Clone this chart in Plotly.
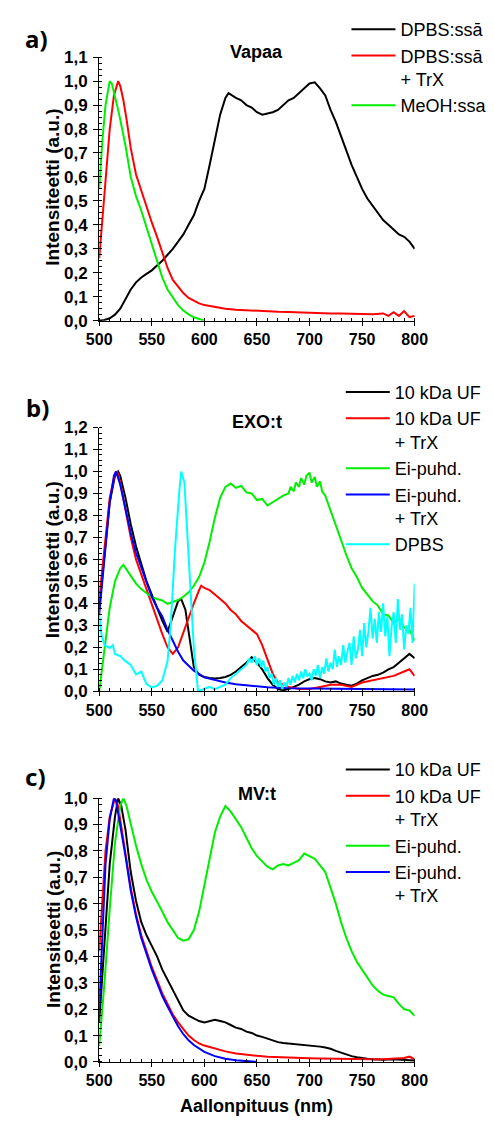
import plotly.graph_objects as go

# ---------------- Panel a) Vapaa ----------------
a_black_wl = [500,505,510,515,520,525,530,535,540,545,550,555,560,565,570,575,580,585,590,595,600,605,610,615,620,623,630,635,640,645,650,655,660,665,670,675,680,685,690,695,700,705,710,715,720,725,730,735,740,745,750,755,760,765,770,775,780,785,790,795,800]
a_black = [0.0,0.003,0.01,0.025,0.05,0.09,0.13,0.16,0.18,0.195,0.21,0.23,0.25,0.275,0.30,0.33,0.36,0.40,0.44,0.50,0.55,0.65,0.76,0.86,0.93,0.95,0.93,0.92,0.90,0.89,0.87,0.86,0.865,0.87,0.88,0.90,0.92,0.93,0.95,0.97,0.99,0.995,0.97,0.94,0.88,0.83,0.77,0.71,0.65,0.60,0.55,0.51,0.48,0.45,0.42,0.40,0.38,0.36,0.35,0.33,0.30]

a_red_wl = [500,503,506,510,514,518,520,523,526,530,535,540,545,550,555,560,565,570,575,580,585,590,595,600,610,620,630,640,650,660,670,680,690,700,710,720,730,740,750,760,770,775,780,785,790,795,800]
a_red = [0.26,0.42,0.60,0.80,0.94,1.0,0.98,0.92,0.84,0.72,0.61,0.54,0.47,0.41,0.35,0.28,0.22,0.17,0.14,0.115,0.095,0.082,0.072,0.065,0.057,0.05,0.046,0.043,0.041,0.039,0.037,0.036,0.034,0.033,0.032,0.030,0.030,0.028,0.027,0.027,0.030,0.020,0.035,0.020,0.040,0.015,0.020]

a_green_wl = [500,503,506,510,512,515,518,520,525,530,535,540,545,550,555,560,565,570,575,580,585,590,595,600]
a_green = [0.55,0.75,0.90,1.0,0.99,0.94,0.88,0.84,0.73,0.60,0.52,0.46,0.39,0.31,0.24,0.18,0.13,0.095,0.065,0.042,0.026,0.014,0.006,0.0]

# ---------------- Panel b) EXO:t ----------------
b_black_wl = [500,505,510,515,518,520,525,530,535,540,545,550,555,560,565,570,575,578,582,586,590,595,600,605,610,615,620,625,630,635,640,645,650,655,660,665,670,675,680,685,690,695,700,705,710,715,720,725,730,735,740,745,750,755,760,765,770,775,780,785,790,795,800]
b_black = [0.38,0.62,0.86,0.98,1.0,0.98,0.88,0.76,0.66,0.58,0.50,0.44,0.38,0.32,0.27,0.34,0.41,0.42,0.37,0.24,0.11,0.075,0.065,0.06,0.058,0.06,0.065,0.075,0.09,0.11,0.13,0.155,0.13,0.10,0.06,0.03,0.01,0.005,0.01,0.02,0.03,0.045,0.055,0.06,0.055,0.045,0.04,0.045,0.035,0.03,0.025,0.035,0.05,0.06,0.07,0.075,0.085,0.10,0.11,0.13,0.15,0.17,0.15]

b_red_wl = [500,505,510,515,517,520,525,530,535,540,545,550,555,560,565,570,575,580,585,590,595,597,600,605,610,615,620,625,630,635,640,645,650,655,660,665,670,680,690,700,710,720,730,740,750,760,770,780,790,795,800]
b_red = [0.42,0.65,0.88,0.99,1.0,0.95,0.83,0.70,0.60,0.53,0.46,0.39,0.32,0.26,0.20,0.17,0.20,0.27,0.34,0.40,0.46,0.48,0.47,0.46,0.44,0.42,0.40,0.37,0.35,0.32,0.30,0.28,0.26,0.21,0.14,0.08,0.04,0.02,0.01,0.01,0.02,0.03,0.03,0.02,0.04,0.05,0.06,0.07,0.09,0.10,0.07]

b_green_wl = [500,505,510,515,520,523,530,535,540,545,550,555,560,565,570,575,580,585,590,595,600,605,610,615,620,625,630,635,640,645,650,655,660,665,670,675,680,682,685,687,690,692,695,697,700,702,705,707,710,712,715,720,725,730,735,740,745,750,755,760,765,770,775,780,785,790,795,800]
b_green = [0.0,0.20,0.38,0.50,0.56,0.575,0.525,0.49,0.465,0.445,0.428,0.42,0.413,0.398,0.406,0.415,0.43,0.45,0.48,0.52,0.585,0.68,0.79,0.88,0.93,0.945,0.925,0.935,0.905,0.90,0.87,0.875,0.845,0.86,0.875,0.89,0.90,0.93,0.91,0.95,0.93,0.97,0.94,0.98,0.995,0.95,0.975,0.93,0.955,0.91,0.89,0.82,0.76,0.68,0.62,0.56,0.52,0.47,0.44,0.41,0.39,0.35,0.345,0.31,0.33,0.29,0.28,0.23]

b_blue_wl = [500,505,510,514,516,520,525,530,535,540,545,550,555,560,565,570,575,580,585,590,600,610,620,630,640,650,660,680,700,750,800]
b_blue = [0.35,0.62,0.86,0.98,1.0,0.94,0.83,0.72,0.63,0.56,0.49,0.43,0.38,0.34,0.28,0.23,0.18,0.14,0.115,0.094,0.063,0.05,0.04,0.032,0.027,0.022,0.018,0.014,0.012,0.01,0.008]

b_cyan_wl = [500,502,505,510,513,515,520,525,530,533,535,540,545,550,555,560,565,568,572,576,578,581,585,590,594,600,605,610,615,620,625,630,635,640,643,645,648,650,652,654,656,658,660,662,664,666,668,670,672,674,676,678,680,682,684,686,688,690,692,694,696,698,700,702,704,706,708,710,712,714,716,718,720,722,724,726,728,730,732,734,736,738,740,742,744,746,748,750,752,754,756,758,760,762,764,766,768,770,772,774,776,778,780,782,784,786,788,790,792,794,796,798,800]
b_cyan = [0.35,0.26,0.21,0.197,0.21,0.17,0.16,0.137,0.12,0.09,0.077,0.09,0.033,0.018,0.025,0.049,0.137,0.30,0.64,0.90,1.0,0.95,0.60,0.197,0.0,0.01,0.02,0.01,0.02,0.03,0.06,0.08,0.10,0.12,0.15,0.13,0.16,0.12,0.15,0.11,0.14,0.09,0.11,0.06,0.08,0.03,0.06,0.02,0.05,0.01,0.04,0.02,0.06,0.03,0.07,0.04,0.08,0.05,0.09,0.06,0.10,0.07,0.08,0.05,0.10,0.07,0.12,0.06,0.11,0.08,0.15,0.09,0.13,0.10,0.19,0.11,0.16,0.12,0.21,0.13,0.18,0.22,0.12,0.25,0.15,0.19,0.28,0.16,0.31,0.20,0.27,0.38,0.24,0.33,0.22,0.36,0.27,0.40,0.25,0.34,0.16,0.29,0.36,0.22,0.42,0.28,0.35,0.19,0.30,0.26,0.38,0.22,0.49]

# ---------------- Panel c) MV:t ----------------
c_black_wl = [500,505,510,515,518,521,525,530,535,540,545,550,555,560,565,570,575,580,585,590,595,600,605,610,615,620,625,630,635,640,645,650,655,660,665,670,675,680,685,690,695,700,705,710,715,720,725,730,735,740,745,750,755,760,770,780,790,800]
c_black = [0.15,0.45,0.75,0.93,1.0,0.97,0.88,0.72,0.61,0.53,0.48,0.44,0.40,0.35,0.31,0.27,0.23,0.195,0.175,0.165,0.155,0.15,0.155,0.16,0.155,0.15,0.14,0.13,0.125,0.115,0.11,0.10,0.095,0.088,0.08,0.075,0.072,0.07,0.07,0.068,0.065,0.062,0.06,0.058,0.055,0.05,0.042,0.035,0.028,0.022,0.018,0.014,0.012,0.01,0.008,0.01,0.008,0.005]

c_red_wl = [500,503,506,510,515,518,520,525,530,535,540,545,550,555,560,565,570,575,580,585,590,595,600,610,620,630,640,650,660,670,680,690,700,710,720,730,740,750,760,770,780,790,795,800]
c_red = [0.42,0.60,0.80,0.93,1.0,0.97,0.92,0.79,0.66,0.56,0.48,0.42,0.36,0.31,0.26,0.22,0.18,0.15,0.125,0.10,0.083,0.07,0.062,0.05,0.04,0.032,0.027,0.023,0.02,0.018,0.016,0.015,0.014,0.013,0.012,0.012,0.011,0.01,0.01,0.01,0.012,0.015,0.02,0.01]

c_green_wl = [500,505,510,515,520,523,526,530,535,540,545,550,555,560,565,570,575,580,585,590,595,600,605,610,615,620,625,630,635,640,645,650,655,660,665,670,675,680,685,690,695,700,705,710,715,720,725,730,735,740,745,750,755,760,765,770,775,780,785,790,795,800]
c_green = [0.06,0.30,0.58,0.83,0.97,1.0,0.97,0.90,0.82,0.75,0.69,0.645,0.61,0.57,0.53,0.50,0.47,0.46,0.465,0.50,0.57,0.67,0.77,0.87,0.93,0.97,0.95,0.92,0.89,0.85,0.81,0.78,0.76,0.74,0.73,0.745,0.75,0.745,0.755,0.765,0.79,0.78,0.77,0.745,0.72,0.66,0.60,0.53,0.47,0.42,0.38,0.35,0.32,0.29,0.27,0.255,0.25,0.245,0.22,0.20,0.195,0.175]

c_blue_wl = [500,503,506,510,514,516,520,525,530,535,540,545,550,555,560,565,570,575,580,585,590,595,600,610,620,630,640,650]
c_blue = [0.20,0.50,0.75,0.92,1.0,0.99,0.90,0.78,0.65,0.55,0.47,0.41,0.35,0.30,0.25,0.21,0.17,0.135,0.105,0.082,0.064,0.05,0.038,0.022,0.012,0.006,0.003,0.0]

# ---------------- text ----------------
legend_a = ["DPBS:ssā", "DPBS:ssā<br>+ TrX", "MeOH:ssa"]
legend_bc = ["10 kDa UF", "10 kDa UF<br>+ TrX", "Ei-puhd.", "Ei-puhd.<br>+ TrX", "DPBS"]
panel_titles = ["Vapaa", "EXO:t", "MV:t"]
panel_labels = ["a)", "b)", "c)"]
y_title = "Intensiteetti (a.u.)"
x_title = "Aallonpituus (nm)"
x_ticks = [500, 550, 600, 650, 700, 750, 800]

BLACK, RED, GREEN, BLUE, CYAN = "#000000", "#FF0000", "#00EE00", "#0000FF", "#00FFFF"
W, H = 494, 1126
FONT = "Arial, Liberation Sans, sans-serif"

fig = go.Figure()

def add(x, y, name, color, xa, ya, leg):
    fig.add_trace(go.Scatter(x=x, y=y, mode="lines", name=name,
                             line=dict(color=color, width=2),
                             xaxis=xa, yaxis=ya, legend=leg))

add(a_black_wl, a_black, legend_a[0], BLACK, "x", "y", "legend")
add(a_red_wl, a_red, legend_a[1], RED, "x", "y", "legend")
add(a_green_wl, a_green, legend_a[2], GREEN, "x", "y", "legend")

add(b_black_wl, b_black, legend_bc[0], BLACK, "x2", "y2", "legend2")
add(b_red_wl, b_red, legend_bc[1], RED, "x2", "y2", "legend2")
add(b_green_wl, b_green, legend_bc[2], GREEN, "x2", "y2", "legend2")
add(b_blue_wl, b_blue, legend_bc[3], BLUE, "x2", "y2", "legend2")
add(b_cyan_wl, b_cyan, legend_bc[4], CYAN, "x2", "y2", "legend2")

add(c_black_wl, c_black, legend_bc[0], BLACK, "x3", "y3", "legend3")
add(c_red_wl, c_red, legend_bc[1], RED, "x3", "y3", "legend3")
add(c_green_wl, c_green, legend_bc[2], GREEN, "x3", "y3", "legend3")
add(c_blue_wl, c_blue, legend_bc[3], BLUE, "x3", "y3", "legend3")

def px_y(py):
    return 1 - py / H

xdom = [91 / W, 424 / W]
xtickfont = dict(family=FONT, size=16, color="black", weight="bold")
ytickfont = dict(family=FONT, size=17, color="black", weight="bold")

def xaxis(anchor):
    return dict(domain=xdom, anchor=anchor, range=[500, 800], tickvals=x_ticks,
                showline=True, linecolor="black", linewidth=1.3, mirror=False,
                ticks="outside", ticklen=4, tickwidth=1.3, tickcolor="black",
                ticklabelstandoff=0,
                showgrid=False, zeroline=False, tickfont=xtickfont,
                minor=dict(dtick=10, ticks="inside", ticklen=3, tickcolor="black", tickwidth=1, showgrid=False))

def yaxis(anchor, dom, top):
    return dict(domain=dom, anchor=anchor, range=[0, top], dtick=0.1, tickformat=".1f",
                showline=True, linecolor="black", linewidth=1.3, mirror=False,
                ticks="outside", ticklen=5, tickwidth=1.3, tickcolor="black",
                ticklabelstandoff=2,
                showgrid=False, zeroline=False, tickfont=ytickfont,
                minor=dict(dtick=0.025, ticks="inside", ticklen=3, tickcolor="black", tickwidth=1, showgrid=False))

legfont = dict(family=FONT, size=18, color="black")

def legend(px_x, px_top):
    return dict(x=px_x / W, y=px_y(px_top), xanchor="left", yanchor="top",
                font=legfont, bgcolor="rgba(0,0,0,0)", borderwidth=0,
                itemwidth=44, valign="top", tracegroupgap=0, traceorder="normal")

fig.update_layout(
    width=W, height=H, margin=dict(l=0, r=0, t=0, b=0),
    paper_bgcolor="white", plot_bgcolor="white",
    separators=", ",
    xaxis=xaxis("y"), yaxis=yaxis("x", [px_y(317), px_y(49)], 1.1),
    xaxis2=xaxis("y2"), yaxis2=yaxis("x2", [px_y(694), px_y(425.7)], 1.2),
    xaxis3=xaxis("y3"), yaxis3=yaxis("x3", [px_y(1071), px_y(802.7)], 1.0),
    legend=legend(352, 2),
    legend2=legend(346, 371),
    legend3=legend(346, 755),
)

ann = []
for lbl, (lx, ly) in zip(panel_labels, [(25, 30), (26, 405), (24, 781)]):
    ann.append(dict(text=lbl, x=lx / W, y=px_y(ly), xanchor="center", yanchor="middle",
                    font=dict(family="Noto Sans", size=24, color="black", weight="bold")))
for t, ty in zip(panel_titles, [44, 420, 798]):
    ann.append(dict(text=t, x=257.5 / W, y=px_y(ty), xanchor="center", yanchor="middle",
                    font=dict(family=FONT, size=18, color="black", weight="bold")))
for cy in [181, 560, 936]:
    ann.append(dict(text=y_title, x=42 / W, y=px_y(cy), xanchor="center", yanchor="middle",
                    textangle=-90, font=dict(family=FONT, size=19, color="black", weight="bold")))
ann.append(dict(text=x_title, x=257 / W, y=px_y(1116), xanchor="center", yanchor="middle",
                font=dict(family=FONT, size=18, color="black", weight="bold")))
for a in ann:
    a.update(xref="paper", yref="paper", showarrow=False)
fig.update_layout(annotations=ann)

fig.write_html("out.html")
